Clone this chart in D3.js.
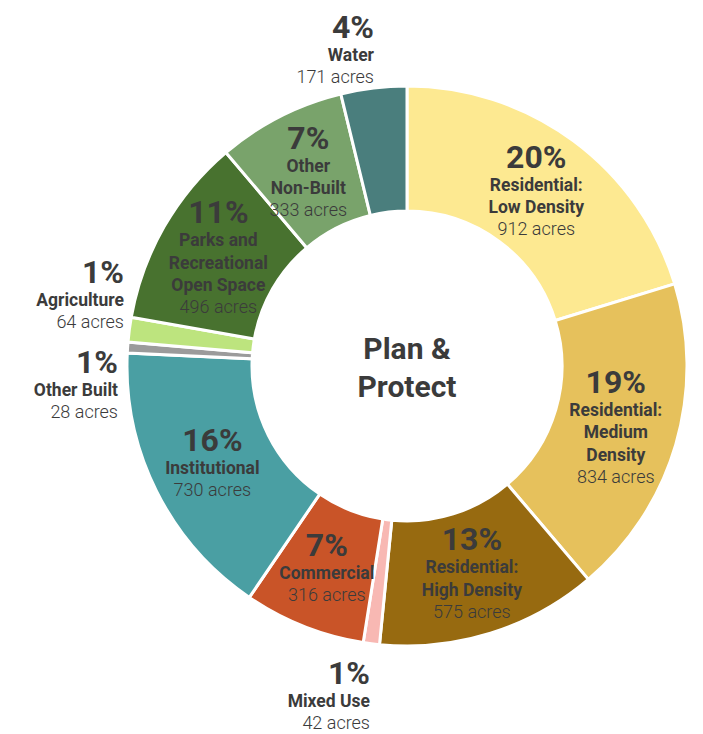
<!DOCTYPE html>
<html>
<head>
<meta charset="utf-8">
<script src="https://cdn.jsdelivr.net/npm/d3@7"></script>
<style>
  html, body { margin: 0; padding: 0; background: #ffffff; }
  svg { display: block; }
  .pct { font-family: Roboto, "Noto Sans", sans-serif; font-weight: 700; font-size: 32px; fill: #3b3b3b; }
  .name { font-family: Roboto, "Noto Sans", sans-serif; font-weight: 700; font-size: 17.5px; fill: #3b3b3b; }
  .acres { font-family: Roboto, "Noto Sans", sans-serif; font-weight: 300; font-size: 18px; fill: #3b3b3b; }
  .center { font-family: Roboto, "Noto Sans", sans-serif; font-weight: 700; font-size: 30px; fill: #3b3b3b; }
</style>
</head>
<body>
<script>
// ---- data ----
const categories = [
  "Residential:|Low Density",
  "Residential:|Medium|Density",
  "Residential:|High Density",
  "Mixed Use",
  "Commercial",
  "Institutional",
  "Other Built",
  "Agriculture",
  "Parks and|Recreational|Open Space",
  "Other|Non-Built",
  "Water"
];
const acres = [912, 834, 575, 42, 316, 730, 28, 64, 496, 333, 171];
const colors = ["#fde991", "#e6c15c", "#976a10", "#f8b8b3", "#c95428", "#4a9fa3",
                "#9b9b9b", "#bde47e", "#48722f", "#79a36b", "#4a7e7d"];
const centerTitle = ["Plan &", "Protect"];
// labels placed outside the ring: [category index, right-edge dx, top dy] relative to center
const outsideLabels = [[3, -37, 297], [6, -289, -14], [7, -283, -104], [10, -33, -349]];

// ---- layout ----
const W = 703, H = 734;
const cx = 407, cy = 366;
const rOuter = 280, rInner = 155;

const svg = d3.select("body").append("svg").attr("width", W).attr("height", H);
const g = svg.append("g").attr("transform", `translate(${cx},${cy})`);

const total = d3.sum(acres);
const data = acres.map((v, i) => ({ i, value: v, name: categories[i].split("|"), color: colors[i] }));

const pie = d3.pie().value(d => d.value).sort(null);
const arc = d3.arc().innerRadius(rInner).outerRadius(rOuter);
const arcs = pie(data);

g.selectAll("path.slice").data(arcs).join("path")
  .attr("class", "slice")
  .attr("d", arc)
  .attr("fill", d => d.data.color)
  .attr("stroke", "#ffffff")
  .attr("stroke-width", 3)
  .attr("stroke-linejoin", "miter");

function buildLines(d) {
  const pct = Math.round(d.value / total * 100) + "%";
  const lines = [{ t: pct, c: "pct", y: 0 }];
  let y = 23;
  d.name.forEach(n => { lines.push({ t: n, c: "name", y }); y += 22.5; });
  lines.push({ t: d.value + " acres", c: "acres", y: y - 0.5 });
  return lines;
}

const outsideMap = new Map(outsideLabels.map(o => [o[0], o]));

arcs.forEach(a => {
  const d = a.data;
  const lines = buildLines(d);
  if (outsideMap.has(d.i)) {
    const o = outsideMap.get(d.i);
    const lg = g.append("g").attr("transform", `translate(${o[1]},${o[2] + 21})`);
    lg.selectAll("text").data(lines).join("text")
      .attr("class", l => l.c)
      .attr("text-anchor", "end")
      .attr("x", 0).attr("y", l => l.y)
      .text(l => l.t);
  } else {
    const [x, y] = arc.centroid(a);
    const top = -21, bottom = lines[lines.length - 1].y;
    const off = -(top + bottom) / 2;
    const lg = g.append("g").attr("transform", `translate(${x},${y + off})`);
    lg.selectAll("text").data(lines).join("text")
      .attr("class", l => l.c)
      .attr("text-anchor", "middle")
      .attr("x", 0).attr("y", l => l.y)
      .text(l => l.t);
  }
});

g.selectAll("text.center").data(centerTitle).join("text")
  .attr("class", "center")
  .attr("text-anchor", "middle")
  .attr("x", 0)
  .attr("y", (d, i) => -7 + i * 38)
  .text(d => d);
</script>
</body>
</html>
